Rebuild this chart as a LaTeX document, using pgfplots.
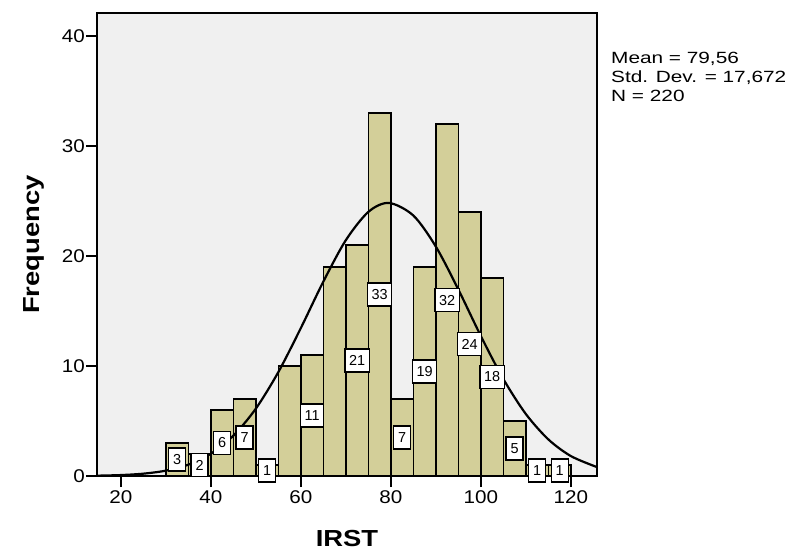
\documentclass[border=0pt]{standalone}
\usepackage{fontspec}
\setmainfont{Liberation Sans}
\newfontfamily\tickfont{Liberation Sans}[FakeStretch=1.12]
\newfontfamily\labfont{Liberation Sans}[FakeStretch=1.18]
\newfontfamily\statfont{Liberation Sans}[FakeStretch=1.28]
\usepackage{pgfplots}
\pgfplotsset{compat=1.18}
\definecolor{bg}{RGB}{240,240,240}
\definecolor{barfill}{RGB}{211,207,153}

\begin{document}
\begin{tikzpicture}
\useasboundingbox (-97bp,-78bp) rectangle (695bp,476bp);
\begin{axis}[
    at={(0,0)}, anchor=south west,
    scale only axis, width=500bp, height=463bp,
    xmin=14.7, xmax=125.8, ymin=0, ymax=42.1,
    clip=false,
    axis background/.style={fill=bg},
    xtick={20,40,60,80,100,120},
    ytick={0,10,20,30,40},
    tick pos=left, tick align=outside,
    major tick length=11bp,
    tick style={black, line width=1.6bp},
    axis line style={black, line width=1.6bp},
    /pgf/number format/assume math mode=true,
    ticklabel style={font=\tickfont\fontsize{18.5}{20}\selectfont},
    yticklabel style={inner xsep=0pt, xshift=-1bp},
    xticklabel style={inner ysep=3bp},
    xlabel={IRST}, ylabel={Frequency},
    label style={font=\labfont\bfseries\fontsize{23.3}{26}\selectfont},
    xlabel style={at={(axis description cs:0.5,0)}, anchor=base, yshift=-70.7bp},
    ylabel style={at={(axis description cs:0,0.5)}, anchor=base, yshift=57bp},
]

% histogram, bin width 5
\addplot[ybar interval, fill=barfill, draw=black, line width=1.6bp] coordinates {
    (30,3) (35,2) (40,6) (45,7) (50,1) (55,10) (60,11) (65,19) (70,21)
    (75,33) (80,7) (85,19) (90,32) (95,24) (100,18) (105,5) (110,1)
    (115,1) (120,0)
};

% count labels at half bar height
\addplot[draw=none, mark=none, nodes near coords, point meta=explicit symbolic,
    nodes near coords style={anchor=center, fill=white, draw=black, line width=1.3bp,
        font=\fontsize{14.5}{15}\selectfont, inner xsep=4bp, inner ysep=0pt,
        minimum height=23bp, minimum width=17bp}]
    table[meta=lab] {
x     y     lab
32.5  1.5   3
37.5  1.0   2
42.5  3.0   6
47.5  3.5   7
52.5  0.5   1
62.5  5.5   11
72.5  10.5  21
77.5  16.5  33
82.5  3.5   7
87.5  9.5   19
92.5  16.0  32
97.5  12.0  24
102.5 9.0   18
107.5 2.5   5
112.5 0.5   1
117.5 0.5   1
};

% normal curve (mean 79.56, sd 17.672, N 220)
\addplot[smooth, black, line width=2.2bp] coordinates {
    (14.7,0.030) (20,0.085) (25,0.212) (30,0.487) (35,1.034) (40,2.027)
    (45,3.668) (50,6.129) (55,9.453) (60,13.458) (65,17.683) (70,21.450)
    (75,24.017) (79.56,24.830) (85,23.681) (90,20.854) (95,16.952)
    (100,12.719) (105,8.810) (110,5.632) (115,3.324) (120,1.811)
    (125.8,0.810)
};

\node[anchor=base west, font=\statfont\fontsize{16.3}{18}\selectfont, inner sep=0pt]
    at (rel axis cs:1.028,0.890) {Mean = 79,56};
\node[anchor=base west, font=\statfont\fontsize{16.3}{18}\selectfont, inner sep=0pt]
    at (rel axis cs:1.028,0.849) {Std. Dev. = 17,672};
\node[anchor=base west, font=\statfont\fontsize{16.3}{18}\selectfont, inner sep=0pt]
    at (rel axis cs:1.028,0.808) {N = 220};
\end{axis}
\end{tikzpicture}
\end{document}
